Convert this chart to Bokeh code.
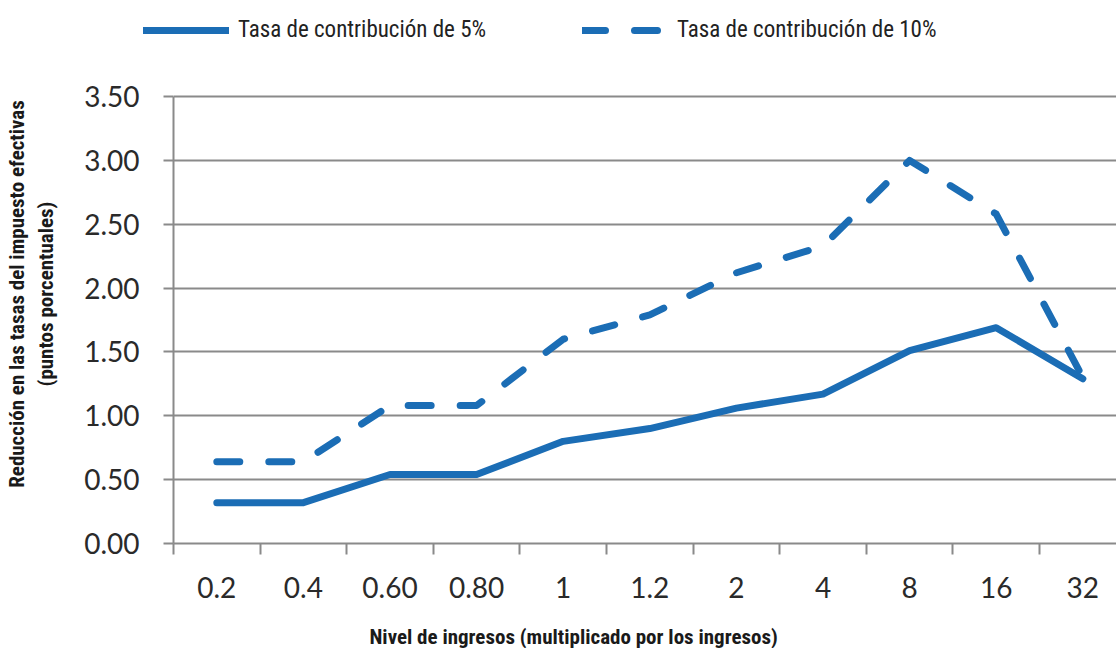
from bokeh.plotting import figure
from bokeh.models import (Range1d, FixedTicker, NumeralTickFormatter, Legend, LegendItem,
                          LinearAxis, Grid, Label)
from bokeh.layouts import column
from bokeh.embed import file_html
from bokeh.resources import INLINE

# ---- data ----
categories = ["0.2", "0.4", "0.60", "0.80", "1", "1.2", "2", "4", "8", "16", "32"]
rate_5 = [0.32, 0.32, 0.54, 0.54, 0.80, 0.90, 1.06, 1.17, 1.51, 1.69, 1.29]
rate_10 = [0.64, 0.64, 1.08, 1.08, 1.60, 1.79, 2.12, 2.33, 3.00, 2.58, 1.30]
y_ticks = [0.0, 0.5, 1.0, 1.5, 2.0, 2.5, 3.0, 3.5]
series_names = ["Tasa de contribución de 5%", "Tasa de contribución de 10%"]
x_title = "Nivel de ingresos (multiplicado por los ingresos)"
y_title = "Reducción en las tasas del impuesto efectivas\n(puntos porcentuales)"

# category positions (centres) and boundaries
centers = [i + 0.5 for i in range(len(categories))]
bounds = [float(i) for i in range(len(categories))]

BLUE = "#1b6db5"
GRID = "#8a8a8a"
NARROW = "'Liberation Sans Narrow', 'Arial Narrow', 'Roboto Condensed', 'Liberation Sans', sans-serif"
TICKFONT = "Lato"
W = 1116
LINE_KW = dict(line_color=BLUE, line_width=7, line_cap="round", line_join="round")
DASH = "23 29"
NAN = float("nan")


def strip(height):
    f = figure(width=W, height=height, output_backend="svg", toolbar_location=None,
               x_range=Range1d(0, 1), y_range=Range1d(0, 1),
               min_border_left=0, min_border_right=0, min_border_top=0, min_border_bottom=0,
               x_axis_type=None, y_axis_type=None, frame_align=False)
    f.outline_line_color = None
    f.xgrid.visible = False
    f.ygrid.visible = False
    return f


# ---------------- legend strip ----------------
leg = strip(44)
l5 = leg.line(x=[NAN], y=[NAN], **LINE_KW)
l10 = leg.line(x=[NAN], y=[NAN], line_dash=DASH, **LINE_KW)
legend = Legend(items=[LegendItem(label=series_names[0], renderers=[l5]),
                       LegendItem(label=series_names[1], renderers=[l10])],
                orientation="horizontal", location=(143, 1),
                glyph_width=86, glyph_height=24, label_height=24, label_standoff=9,
                spacing=96, padding=0, margin=0,
                border_line_alpha=0, background_fill_alpha=0,
                label_text_font=NARROW, label_text_font_size="23px", label_text_color="#222222")
leg.add_layout(legend, "center")

# ---------------- main chart ----------------
p = figure(width=W, height=566, output_backend="svg", toolbar_location=None,
           x_range=Range1d(0, 10.889), y_range=Range1d(0, 3.9076),
           min_border_left=173, min_border_right=0, min_border_top=0, min_border_bottom=67,
           x_axis_type=None, y_axis_type=None, frame_align=False)
p.outline_line_color = None
p.background_fill_color = "white"

# x axis: labels at category centres, tick marks at category boundaries (minor ticks)
xaxis = LinearAxis(ticker=FixedTicker(ticks=centers, minor_ticks=bounds))
xaxis.major_label_overrides = {c: lab for c, lab in zip(centers, categories)}
xaxis.major_tick_out = 0
xaxis.major_tick_in = 0
xaxis.minor_tick_out = 11
xaxis.minor_tick_in = 0
xaxis.minor_tick_line_color = GRID
xaxis.minor_tick_line_width = 2
xaxis.axis_line_color = GRID
xaxis.axis_line_width = 2
xaxis.major_label_text_font = TICKFONT
xaxis.major_label_text_font_size = "28px"
xaxis.major_label_text_color = "#2a2a2a"
xaxis.major_label_standoff = 22
p.add_layout(xaxis, "below")

yaxis = LinearAxis(ticker=FixedTicker(ticks=y_ticks), bounds=(0, 3.5))
yaxis.formatter = NumeralTickFormatter(format="0.00")
yaxis.major_tick_out = 10
yaxis.major_tick_in = 0
yaxis.minor_tick_out = 0
yaxis.minor_tick_in = 0
yaxis.major_tick_line_color = GRID
yaxis.major_tick_line_width = 2
yaxis.axis_line_color = GRID
yaxis.axis_line_width = 2
yaxis.major_label_text_font = TICKFONT
yaxis.major_label_text_font_size = "28px"
yaxis.major_label_text_color = "#2a2a2a"
yaxis.major_label_standoff = 24
yaxis.axis_label = y_title
yaxis.axis_label_text_font = NARROW
yaxis.axis_label_text_font_style = "bold"
yaxis.axis_label_text_font_size = "21px"
yaxis.axis_label_text_color = "#1a1a1a"
yaxis.axis_label_standoff = 23
p.add_layout(yaxis, "left")

p.add_layout(Grid(dimension=1, ticker=FixedTicker(ticks=y_ticks),
                  grid_line_color=GRID, grid_line_width=2))

p.line(centers, rate_5, **LINE_KW)
p.line(centers, rate_10, line_dash=DASH, **LINE_KW)

# ---------------- x title strip ----------------
xt = strip(38)
xt.add_layout(Label(x=369, y=12, x_units="screen", y_units="screen", text=x_title,
                    text_font=NARROW, text_font_style="bold", text_font_size="21px",
                    text_color="#1a1a1a", text_align="left", text_baseline="middle"))

layout = column(leg, p, xt, spacing=0)
open("out.html", "w").write(file_html(layout, INLINE))
